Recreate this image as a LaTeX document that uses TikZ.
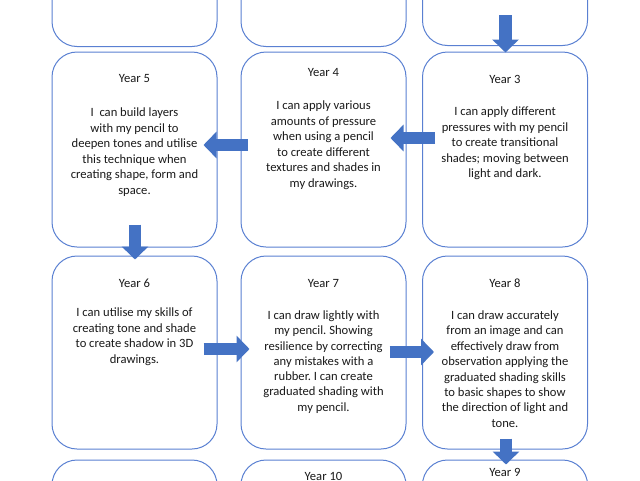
\documentclass[tikz,border=0pt]{standalone}
\usepackage{fontspec}
\setmainfont{Carlito}
\usetikzlibrary{arrows.meta,calc}
\definecolor{boxline}{HTML}{5A80D2}
\definecolor{arrowfill}{HTML}{4472C4}
\definecolor{txt}{HTML}{1A1A1A}
\frenchspacing
\begin{document}
\begin{tikzpicture}[x=1pt,y=-1pt,
  box/.style={draw=boxline, line width=1pt, rounded corners=25pt, minimum width=165pt, minimum height=195pt, inner sep=0pt, fill=white},
  ttl/.style={text=txt, font=\fontsize{12.6}{15.6}\selectfont, inner sep=0pt},
  body/.style={text=txt, font=\fontsize{12.6}{15.6}\selectfont, align=center, inner sep=0pt, anchor=north},
  blockarrow/.style={draw=arrowfill, line width=12.5pt, -{Triangle[width=26pt,length=13pt]}}
]
\useasboundingbox (0,0) rectangle (640,480);
\clip (0,0) rectangle (640,480);
% boxes
\node[box] (t1) at (134.5,-51) {};
\node[box] (t2) at (323.5,-51) {};
\node[box] (t3) at (505,-52) {};
\node[box] (y5) at (134.5,149.5) {};
\node[box] (y4) at (323.5,149.5) {};
\node[box] (y3) at (505,149.5) {};
\node[box, minimum height=193pt] (y6) at (134.5,352.5) {};
\node[box, minimum height=193pt] (y7) at (323.5,352.5) {};
\node[box, minimum height=193pt] (y8) at (505,352.5) {};
\node[box] (y11) at (134.5,557.5) {};
\node[box] (y10) at (323.5,557.5) {};
\node[box] (y9) at (505,557.5) {};
% texts
\node[ttl] (y5t) at (134.5,78) {Year 5};
\node[body] (y5b) at (134.5,107.5) {I~ can build layers\\with my pencil to\\deepen tones and utilise\\this technique when\\creating shape, form and\\space.};
\node[ttl] (y4t) at (323.5,72) {Year 4};
\node[body] (y4b) at (323.5,100.5) {I can apply various\\amounts of pressure\\when using a pencil\\to create different\\textures and shades in\\my drawings.};
\node[ttl] (y3t) at (505,79) {Year 3};
\node[body] (y3b) at (505,106.5) {I can apply different\\pressures with my pencil\\to create transitional\\shades; moving between\\light and dark.};
\node[ttl] (y6t) at (134.5,283) {Year 6};
\node[body] (y6b) at (134.5,307.5) {I can utilise my skills of\\creating tone and shade\\to create shadow in 3D\\drawings.};
\node[ttl] (y7t) at (323.5,283) {Year 7};
\node[body, font=\fontsize{12.6}{15.3}\selectfont] (y7b) at (323.5,310.5) {I can draw lightly with\\my pencil. Showing\\resilience by correcting\\any mistakes with a\\rubber. I can create\\graduated shading with\\my pencil.};
\node[ttl] (y8t) at (505,283) {Year 8};
\node[body, font=\fontsize{12.6}{15.4}\selectfont] (y8b) at (505,310.5) {I can draw accurately\\from an image and can\\effectively draw from\\observation applying the\\graduated shading skills\\to basic shapes to show\\the direction of light and\\tone.};
\node[ttl] (y10t) at (323.5,476.5) {Year 10};
% arrows
\draw[blockarrow] ($(t3.south)+(0.5,-31)$) -- ($(y3.north)+(0.5,1)$);
\draw[blockarrow] ($(y3.west)+(13,-11.5)$) -- ($(y4.east)+(-16,-11.5)$);
\draw[blockarrow] ($(y4.west)+(7,-4.5)$) -- ($(y5.east)+(-14,-4.5)$);
\draw[blockarrow] ($(y5.south)+(0.5,-23)$) -- ($(y6.north)+(0.5,4)$);
\draw[blockarrow] ($(y6.east)+(-14,-3.5)$) -- ($(y7.west)+(9,-3.5)$);
\draw[blockarrow] ($(y7.east)+(-17,-0.5)$) -- ($(y8.west)+(12,-0.5)$);
\node[ttl] (y9t) at (505,472) {Year 9};
\draw[blockarrow] ($(y8.south)+(1,-11)$) -- ($(y9.north)+(1,5)$);
\end{tikzpicture}
\end{document}
